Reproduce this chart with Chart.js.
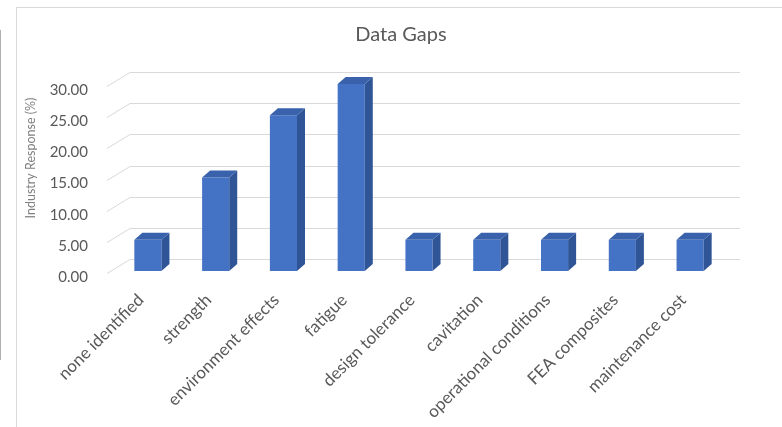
<!DOCTYPE html>
<html>
<head>
<meta charset="utf-8">
<script src="https://cdn.jsdelivr.net/npm/chart.js@4/dist/chart.umd.min.js"></script>
<style>
  html, body { margin: 0; padding: 0; background: #ffffff; overflow: hidden; }
  #wrap { position: relative; width: 782px; height: 427px; }
  #frame { position: absolute; left: 16px; top: 7px; width: 900px; height: 500px; border: 1px solid #d9d9d9; box-sizing: border-box; }
  #edge { position: absolute; left: 0; top: 30px; width: 1px; height: 330px; background: #b0b0b0; }
  canvas { position: absolute; left: 0; top: 0; }
</style>
</head>
<body>
<div id="wrap">
  <div id="frame"></div>
  <div id="edge"></div>
  <canvas id="c" width="782" height="427"></canvas>
</div>
<script>
const categories = [
  'none identified', 'strength', 'environment effects', 'fatigue', 'design tolerance',
  'cavitation', 'operational conditions', 'FEA composites', 'maintenance cost'
];
const responses = [5, 15, 25, 30, 5, 5, 5, 5, 5];
const yTicks = [0, 5, 10, 15, 20, 25, 30];
const chartTitle = 'Data Gaps';
const yTitle = 'Industry Response (%)';

// depth of the back wall and of each column
const WALL_DX = 16, WALL_DY = 12;
const BAR_DX = 8, BAR_DY = 7;

const FRONT = '#4472C4';
const SIDE = '#2F5597';
const TOP = '#3A62AC';

const wallGrid = {
  id: 'wallGrid',
  beforeDatasetsDraw(chart) {
    const { ctx, chartArea, scales: { y } } = chart;
    ctx.save();
    ctx.strokeStyle = '#d9d9d9';
    ctx.lineWidth = 1;
    y.ticks.forEach(t => {
      const py = Math.round(y.getPixelForValue(t.value)) + 0.5;
      ctx.beginPath();
      ctx.moveTo(chartArea.left - 7, py + 2);
      ctx.lineTo(chartArea.left + WALL_DX, py - WALL_DY);
      ctx.lineTo(chartArea.right + WALL_DX, py - WALL_DY);
      ctx.stroke();
    });
    ctx.restore();
  },
  afterDatasetsDraw(chart) {
    const { ctx } = chart;
    const meta = chart.getDatasetMeta(0);
    ctx.save();
    meta.data.forEach(bar => {
      const { x, y, base, width } = bar.getProps(['x', 'y', 'base', 'width'], true);
      const l = x - width / 2, r = x + width / 2;
      // side face
      ctx.fillStyle = SIDE;
      ctx.beginPath();
      ctx.moveTo(r, y);
      ctx.lineTo(r + BAR_DX, y - BAR_DY);
      ctx.lineTo(r + BAR_DX, base - BAR_DY);
      ctx.lineTo(r, base);
      ctx.closePath();
      ctx.fill();
      // top face
      ctx.fillStyle = TOP;
      ctx.beginPath();
      ctx.moveTo(l, y);
      ctx.lineTo(l + BAR_DX, y - BAR_DY);
      ctx.lineTo(r + BAR_DX, y - BAR_DY);
      ctx.lineTo(r, y);
      ctx.closePath();
      ctx.fill();
    });
    ctx.restore();
  },
  afterDraw(chart) {
    const { ctx } = chart;
    ctx.save();
    ctx.translate(31, 158);
    ctx.rotate(-Math.PI / 2);
    ctx.fillStyle = '#808080';
    ctx.font = '12.5px Lato';
    ctx.textAlign = 'center';
    ctx.textBaseline = 'middle';
    ctx.fillText(yTitle, 0, 0);
    ctx.restore();
  }
};

new Chart(document.getElementById('c'), {
  type: 'bar',
  data: {
    labels: categories,
    datasets: [{
      data: responses,
      backgroundColor: FRONT,
      borderWidth: 0,
      categoryPercentage: 1,
      barPercentage: 0.4
    }]
  },
  options: {
    responsive: false,
    animation: false,
    events: [],
    layout: { padding: { left: 20, right: 0, top: 0, bottom: 0 } },
    plugins: {
      legend: { display: false },
      tooltip: { enabled: false },
      title: {
        display: true,
        text: chartTitle,
        color: '#595959',
        font: { family: 'Lato', size: 20, weight: 'normal', lineHeight: 1.2 },
        padding: { top: 23, bottom: 37 }
      }
    },
    scales: {
      x: {
        grid: { display: false, drawTicks: false },
        border: { display: false },
        ticks: {
          color: '#595959',
          font: { family: 'Lato', size: 17 },
          minRotation: 45,
          maxRotation: 45,
          autoSkip: false,
          padding: 19,
          labelOffset: -7
        },
        afterFit(scale) { scale.height = 156; }
      },
      y: {
        min: 0,
        max: 30,
        grid: { display: false, drawTicks: false },
        border: { display: false },
        afterBuildTicks(scale) { scale.ticks = yTicks.map(v => ({ value: v })); },
        ticks: {
          color: '#595959',
          font: { family: 'Lato', size: 15 },
          padding: 26,
          labelOffset: 6,
          callback: v => Number(v).toFixed(2)
        },
        afterFit(scale) { scale.width = 94; }
      },
      // empty right-hand margin for the back wall depth
      gutter: {
        type: 'linear',
        position: 'right',
        grid: { display: false, drawTicks: false },
        border: { display: false },
        ticks: { display: false },
        afterFit(scale) { scale.width = 58; }
      }
    }
  },
  plugins: [wallGrid]
});
</script>
</body>
</html>
